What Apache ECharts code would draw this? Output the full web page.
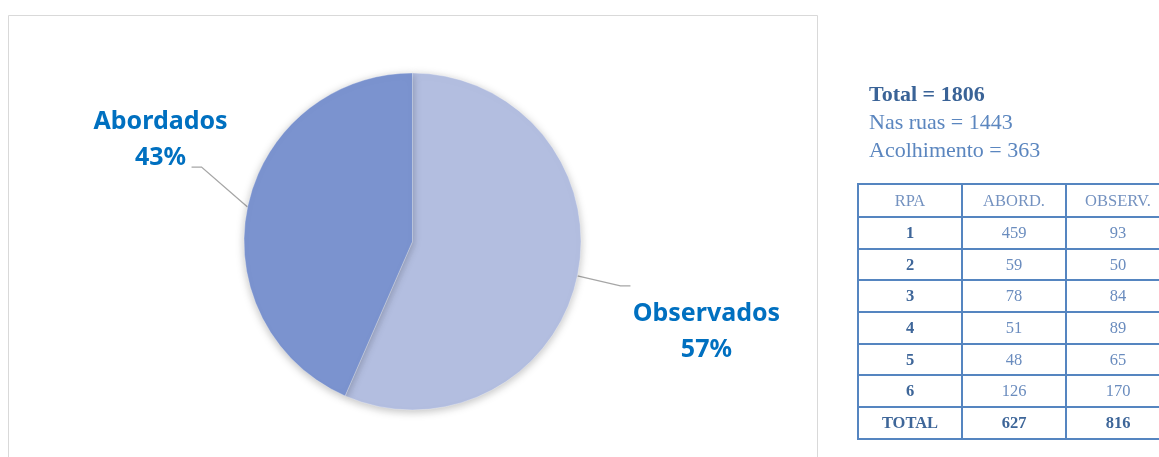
<!DOCTYPE html>
<html>
<head>
<meta charset="utf-8">
<script src="https://cdn.jsdelivr.net/npm/echarts@6/dist/echarts.min.js"></script>
<style>
  html, body { margin: 0; padding: 0; background: #fff; overflow: hidden; }
  #chart { position: absolute; left: 0; top: 0; width: 1159px; height: 457px; }
  #resumo {
    position: absolute; left: 869px; top: 80px;
    font-family: 'Liberation Serif', serif; font-size: 22px; line-height: 28px;
    color: #5b86bf; white-space: nowrap;
  }
  #resumo .total { font-weight: bold; color: #3a6397; }
  #tabela {
    position: absolute; left: 857px; top: 183px; width: 314px;
    border-collapse: collapse; table-layout: fixed;
    font-family: 'Liberation Serif', serif; font-size: 16.5px;
  }
  #tabela td {
    height: 29.7px; padding: 0; text-align: center;
    border: 2px solid #5585c0; color: #6a8cbe;
  }
  #tabela tr.head td { height: 31px; color: #7492c0; }
  #tabela td.rpa { font-weight: bold; color: #3e6699; }
  #tabela tr.tot td { font-weight: bold; color: #3e6699; }
</style>
</head>
<body>
<div id="chart"></div>
<div id="resumo"></div>
<table id="tabela"></table>
<script>
// dados do gráfico
const categorias = ['Observados', 'Abordados']
const valores = [816, 627]
const cores = ['#b3bee0', '#7b93cf']

// texto ao lado
const resumo = ['Total = 1806', 'Nas ruas = 1443', 'Acolhimento = 363']

// tabela por RPA
const cabecalho = ['RPA', 'ABORD.', 'OBSERV.']
const rpas = ['1', '2', '3', '4', '5', '6', 'TOTAL']
const abordados = [459, 59, 78, 51, 48, 126, 627]
const observados = [93, 50, 84, 89, 65, 170, 816]

// deslocamentos da linha guia e do rótulo (a partir da borda da fatia)
const guia = {
  Observados: { seg: [43, 10], len2: 10, label: [76, 46] },
  Abordados: { seg: [-46, -40], len2: -10, label: [-31, -27] }
}

document.getElementById('resumo').innerHTML = resumo.map((t, i) =>
  '<div class="' + (i === 0 ? 'total' : '') + '">' + t + '</div>').join('')

let html = '<tr class="head">' + cabecalho.map(c => '<td>' + c + '</td>').join('') + '</tr>'
rpas.forEach((r, i) => {
  html += '<tr' + (r === 'TOTAL' ? ' class="tot"' : '') + '><td class="rpa">' + r + '</td><td>' +
    abordados[i] + '</td><td>' + observados[i] + '</td></tr>'
})
document.getElementById('tabela').innerHTML = html

const chart = echarts.init(document.getElementById('chart'))
const option = {
  animation: false,
  graphic: [{
    type: 'rect',
    shape: { x: 8.5, y: 15.5, width: 809, height: 470 },
    style: { fill: '#fff', stroke: '#d9d9d9', lineWidth: 1 },
    z: -10
  }],
  series: [{
    type: 'pie',
    center: [412.5, 241.5],
    radius: 168.5,
    startAngle: 90,
    clockwise: true,
    percentPrecision: 0,
    data: categorias.map((n, i) => ({ name: n, value: valores[i], itemStyle: { color: cores[i] } })),
    itemStyle: {
      borderColor: 'rgba(255,255,255,0.6)',
      borderWidth: 0.5,
      shadowBlur: 8,
      shadowOffsetY: 2,
      shadowColor: 'rgba(0,0,0,0.25)'
    },
    label: {
      position: 'outside',
      formatter: '{b}\n{d}%',
      fontFamily: 'Noto Sans',
      fontWeight: 'bold',
      fontSize: 25,
      lineHeight: 36,
      color: '#0070c0'
    },
    labelLine: {
      show: true,
      length: 20,
      length2: 10,
      lineStyle: { color: '#a6a6a6', width: 1.3 }
    },
    labelLayout: function (params) {
      const g = guia[categorias[params.dataIndex]]
      const p0 = params.labelLinePoints[0]
      const p1 = [p0[0] + g.seg[0], p0[1] + g.seg[1]]
      const p2 = [p1[0] + g.len2, p1[1]]
      return {
        x: p2[0] + g.label[0],
        y: p2[1] + g.label[1],
        align: 'center',
        verticalAlign: 'middle',
        labelLinePoints: [p0, p1, p2]
      }
    },
    emphasis: { disabled: true }
  }]
}
chart.setOption(option)
</script>
</body>
</html>
